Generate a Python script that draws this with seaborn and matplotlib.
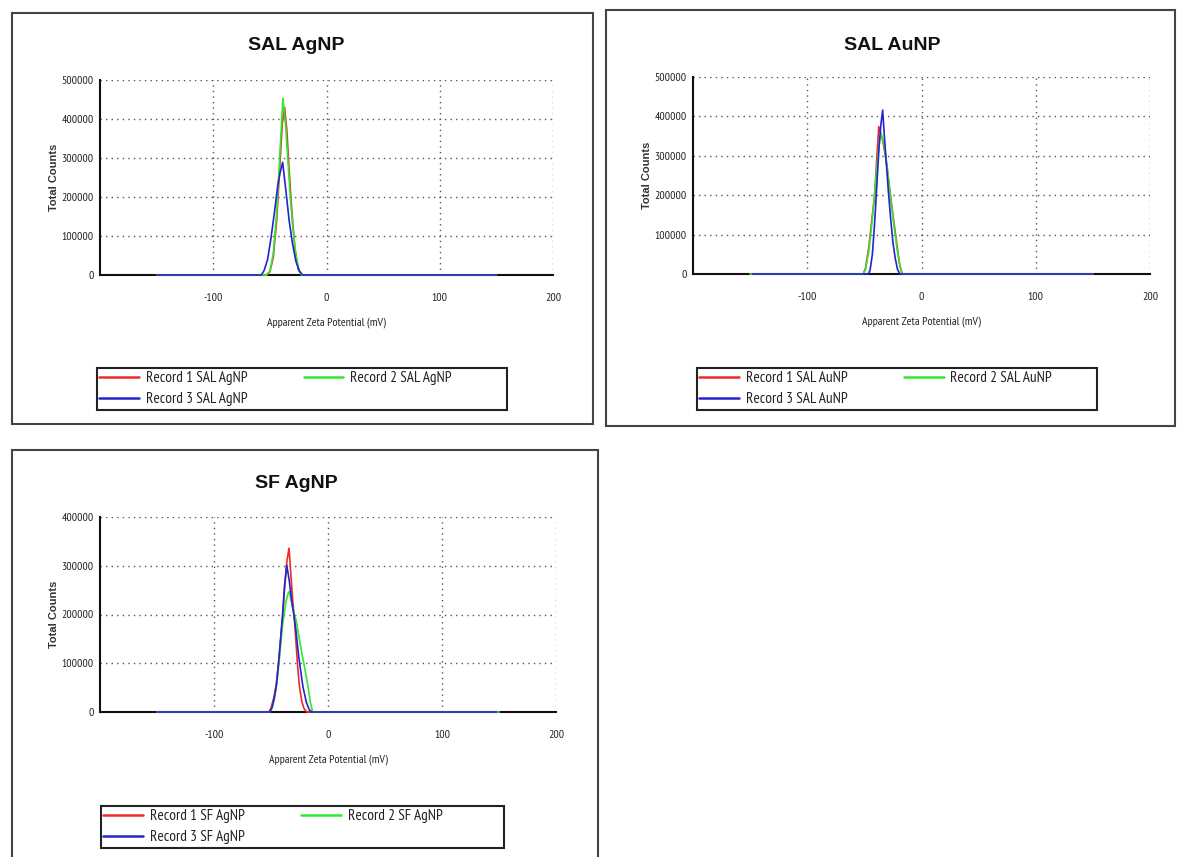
import matplotlib
matplotlib.use("Agg")
import matplotlib.pyplot as plt
from matplotlib.patches import Rectangle
from matplotlib.ticker import MultipleLocator, FixedLocator
import seaborn as sns
import pandas as pd

sns.set_theme(style="white")
plt.rcParams['font.family'] = ['Liberation Sans', 'DejaVu Sans']
plt.rcParams['axes.unicode_minus'] = False

NARROW = ['Liberation Sans Narrow', 'Arial Narrow', 'PT Sans Narrow', 'Archivo Narrow',
          'Roboto Condensed', 'Liberation Sans', 'DejaVu Sans']
BOLD = ['Liberation Sans', 'DejaVu Sans']

# ---------------- data ----------------
titles = ["SAL AgNP", "SAL AuNP", "SF AgNP"]
record_names = ["Record 1", "Record 2", "Record 3"]
colors = ["#ee2a2a", "#30e830", "#2424d0"]
x_ticks = [-100, 0, 100, 200]
x_minor = [-150, -50, 50, 150]

# SAL AgNP
salag_x1 = [-150, -53, -50, -47, -44, -41, -39, -37, -35, -33, -31, -28, -25, -22, 150]
salag_y1 = [0, 0, 8000, 45000, 140000, 290000, 390000, 430000, 370000, 270000, 180000, 70000, 15000, 0, 0]
salag_x2 = [-150, -53, -50, -47, -44, -41, -38.5, -36, -34, -32, -30, -27, -24, -22, 150]
salag_y2 = [0, 0, 10000, 55000, 160000, 320000, 453000, 380000, 290000, 200000, 130000, 50000, 10000, 0, 0]
salag_x3 = [-150, -57.5, -55, -52, -49, -46, -43, -41, -38.7, -36, -33, -30, -27, -24, -21, 150]
salag_y3 = [0, 0, 12000, 40000, 95000, 160000, 230000, 262000, 289000, 220000, 140000, 80000, 35000, 10000, 0, 0]

# SAL AuNP
salau_x1 = [-150, -51, -49, -46, -43, -41, -39, -37.4, -34, -31, -28, -25, -22, -19.5, -17.5, -16.5, 150]
salau_y1 = [0, 0, 15000, 70000, 150000, 200000, 300000, 374000, 340000, 290000, 220000, 150000, 85000, 30000, 5000, 0, 0]
salau_x2 = [-150, -51, -49, -46, -43, -40, -37.5, -35.4, -33, -30, -27, -24, -21, -18.5, -16.5, 150]
salau_y2 = [0, 0, 12000, 60000, 140000, 240000, 320000, 358000, 330000, 270000, 190000, 120000, 55000, 15000, 0, 0]
salau_x3 = [-148, -46.5, -45, -43, -41, -39, -37, -35.5, -34, -32.5, -31, -29, -27, -25, -23, -21, -19, 150]
salau_y3 = [0, 0, 10000, 50000, 130000, 230000, 330000, 380000, 416000, 350000, 290000, 210000, 140000, 80000, 40000, 12000, 0, 0]

# SF AgNP
sfag_x1 = [-150, -52, -50, -47.5, -45.5, -43, -40, -38, -36, -34.2, -32.5, -31, -29.5, -28, -26.5, -25, -23, -21, -18.7, 150]
sfag_y1 = [0, 0, 8000, 30000, 55000, 110000, 190000, 260000, 310000, 336000, 280000, 230000, 190000, 140000, 90000, 52000, 22000, 7000, 0, 0]
sfag_x2 = [-150, -51, -49, -47, -45, -43, -40, -37, -35, -34, -32, -30, -28, -25.5, -23, -20, -17.5, -15.5, -13.4, 150]
sfag_y2 = [0, 0, 8000, 28000, 55000, 100000, 175000, 225000, 243000, 247000, 225000, 205000, 189000, 155000, 121000, 85000, 52000, 20000, 0, 0]
sfag_x3 = [-150, -51, -49, -47, -45, -43, -40, -38, -36.2, -34, -32, -30, -28, -26, -24, -22, -19, -16.5, -14.3, 148]
sfag_y3 = [0, 0, 10000, 30000, 60000, 110000, 195000, 260000, 301000, 270000, 230000, 200000, 165000, 120000, 85000, 52000, 20000, 5000, 0, 0]

panels_data = [
    [(salag_x1, salag_y1), (salag_x2, salag_y2), (salag_x3, salag_y3)],
    [(salau_x1, salau_y1), (salau_x2, salau_y2), (salau_x3, salau_y3)],
    [(sfag_x1, sfag_y1), (sfag_x2, sfag_y2), (sfag_x3, sfag_y3)],
]
y_max = [500000, 500000, 400000]

# ---------------- layout (pixels) ----------------
W, H = 1177, 857
frames = [(12, 13, 593, 424), (606, 10, 1175, 426), (12, 450, 598, 870)]
axes_px = [(100, 80, 553, 275), (693, 77, 1150, 274), (100, 517, 556, 712)]
title_px = [(296, 46), (892, 46), (296, 484)]
legend_px = [(97, 368, 507, 410), (697, 368, 1097, 410), (101, 806, 504, 848)]

fig = plt.figure(figsize=(W / 100, H / 100), dpi=100)
fig.patch.set_facecolor("white")


def fx(px):
    return px / W


def fy(py):
    return 1 - py / H


for i in range(3):
    fl, ft, fr, fb = frames[i]
    fig.add_artist(Rectangle((fx(fl), fy(fb)), fx(fr) - fx(fl), fy(ft) - fy(fb),
                             transform=fig.transFigure, fill=False,
                             edgecolor="#444444", linewidth=1.5, clip_on=False))

    al, at, ar, ab = axes_px[i]
    ax = fig.add_axes([fx(al), fy(ab), fx(ar) - fx(al), fy(at) - fy(ab)])

    rows = []
    for name, (xs, ys) in zip(record_names, panels_data[i]):
        label = f"{name} {titles[i]}"
        for xv, yv in zip(xs, ys):
            rows.append({"x": xv, "y": yv, "record": label})
    df = pd.DataFrame(rows)
    labels = [f"{n} {titles[i]}" for n in record_names]
    pal = dict(zip(labels, colors))
    sns.lineplot(data=df, x="x", y="y", hue="record", hue_order=labels,
                 palette=pal, estimator=None, sort=False, legend=False,
                 linewidth=1.2, zorder=3, clip_on=False, ax=ax)

    ax.set_xlim(-200, 200)
    ax.set_ylim(0, y_max[i])
    ax.xaxis.set_major_locator(FixedLocator(x_ticks))
    ax.xaxis.set_minor_locator(FixedLocator(x_minor))
    ax.yaxis.set_major_locator(MultipleLocator(100000))
    ax.yaxis.set_minor_locator(MultipleLocator(50000))

    ax.grid(True, which="major", linestyle=(0, (1, 3)), color="#555555", linewidth=1.0)
    for s in ["top", "right"]:
        ax.spines[s].set_visible(False)
    for s in ["left", "bottom"]:
        ax.spines[s].set_color("#111111")
        ax.spines[s].set_linewidth(1.5)
    ax.tick_params(axis="both", which="both", direction="inout", length=6,
                   width=1.3, color="#111111", labelsize=8.5, labelcolor="#222222")
    ax.tick_params(axis="x", which="both", pad=10)
    ax.tick_params(axis="y", which="both", pad=1.5)
    ax.set_yticks(ax.get_yticks())
    ax.set_yticklabels([f"{int(v)}" for v in ax.get_yticks()])
    ax.set_ylim(0, y_max[i])
    for lab in ax.get_xticklabels() + ax.get_yticklabels():
        lab.set_family(NARROW)

    ax.set_xlabel("Apparent Zeta Potential (mV)", family=NARROW, fontsize=8.5,
                  color="#222222", labelpad=10)
    ax.set_ylabel("Total Counts", family=BOLD, fontsize=8, fontweight="bold",
                  color="#333333", labelpad=1.5)

    tx, ty = title_px[i]
    fig.text(fx(tx), fy(ty), titles[i], ha="center", va="center",
             fontsize=14, fontweight="bold", family=BOLD, color="#111111")

    ll, lt, lr, lb = legend_px[i]
    fig.add_artist(Rectangle((fx(ll), fy(lb)), fx(lr) - fx(ll), fy(lt) - fy(lb),
                             transform=fig.transFigure, fill=False,
                             edgecolor="#222222", linewidth=1.5, clip_on=False))
    lines = ax.get_lines()[:3]
    handles = [lines[0], lines[2], lines[1]]
    leg_labels = [labels[0], labels[2], labels[1]]
    leg = ax.legend(handles, leg_labels, loc="upper left",
                    bbox_to_anchor=(fx(ll + 2), fy(lt + 3)),
                    bbox_transform=fig.transFigure, ncol=2, frameon=False,
                    borderpad=0, borderaxespad=0, handlelength=2.6,
                    handletextpad=0.45, columnspacing=3.7, labelspacing=0.45,
                    prop={"family": NARROW, "size": 11})
    for t in leg.get_texts():
        t.set_color("#222222")
    for lh in leg.get_lines():
        lh.set_linewidth(1.8)

fig.savefig("out.png", dpi=100, facecolor="white")
